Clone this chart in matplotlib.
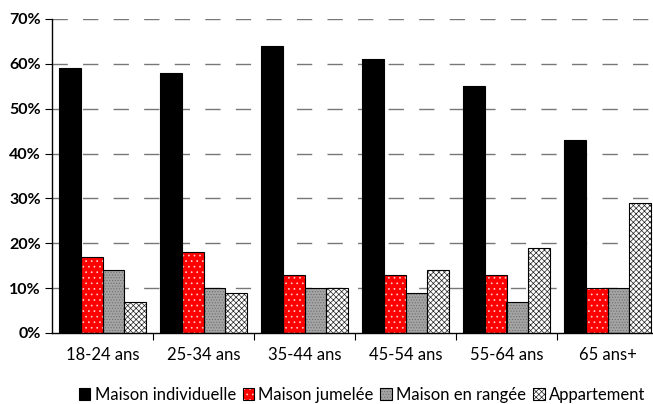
import numpy as np
import matplotlib.pyplot as plt
from matplotlib.legend_handler import HandlerTuple

plt.rcParams['font.family'] = ['Lato', 'DejaVu Sans']
plt.rcParams['hatch.linewidth'] = 0.5

groups = ["18-24 ans", "25-34 ans", "35-44 ans", "45-54 ans", "55-64 ans", "65 ans+"]
individuelle = [59, 58, 64, 61, 55, 43]
jumelee = [17, 18, 13, 13, 13, 10]
rangee = [14, 10, 10, 9, 7, 10]
appartement = [7, 9, 10, 14, 19, 29]

series = [
    ("Maison individuelle", individuelle, dict(facecolor="black", edgecolor="black", hatch=None)),
    ("Maison jumelée", jumelee, dict(facecolor="#ff0000", edgecolor="#ffd0d0", hatch="...")),
    ("Maison en rangée", rangee, dict(facecolor="#a4a4a4", edgecolor="#707070", hatch="......")),
    ("Appartement", appartement, dict(facecolor="white", edgecolor="#222222", hatch="xxxxxx")),
]

fig = plt.figure(figsize=(6.53, 4.04), dpi=100)
ax = fig.add_axes([52 / 653, 1 - 333 / 404, 606 / 653, 314 / 404])

x = np.arange(len(groups))
width = 0.213
handles = []
for i, (name, vals, style) in enumerate(series):
    pos = x + (i - 1.5) * width
    base = ax.bar(pos, vals, width, linewidth=0, zorder=2, **style)
    outline = ax.bar(pos, vals, width, fill=False, edgecolor="black", linewidth=0.8, zorder=3)
    handles.append((base[0], outline[0]))

ax.set_xlim(-0.5, len(groups) - 0.5)
ax.set_ylim(0, 70)
ax.set_yticks(range(0, 71, 10))
ax.set_yticklabels([f"{v}%" for v in range(0, 71, 10)], fontweight="bold", fontsize=11.5)
for v in range(10, 71, 10):
    ax.axhline(v, color="#777777", linewidth=1, dashes=(11, 11), zorder=1)

# group labels centred, tick marks on the group boundaries
ax.set_xticks(x)
ax.set_xticklabels(groups, fontsize=12)
ax.tick_params(axis="x", length=0, pad=10)
ax.set_xticks(np.arange(0.5, len(groups) - 0.5, 1), minor=True)
ax.tick_params(axis="x", which="minor", length=5, width=0.8, direction="out")
ax.tick_params(axis="y", length=5, width=0.8, direction="out", pad=3)

for side in ["top", "right"]:
    ax.spines[side].set_visible(False)
ax.spines["left"].set_linewidth(1)
ax.spines["bottom"].set_linewidth(1)

fig.legend(handles, [s[0] for s in series], handler_map={tuple: HandlerTuple(ndivide=1)},
           loc="center", bbox_to_anchor=(362 / 653, 1 - 395 / 404), ncol=4, frameon=False,
           fontsize=12, handlelength=0.7, handleheight=0.7, handletextpad=0.25,
           columnspacing=0.4, borderpad=0)

fig.savefig("out.png", dpi=100)
